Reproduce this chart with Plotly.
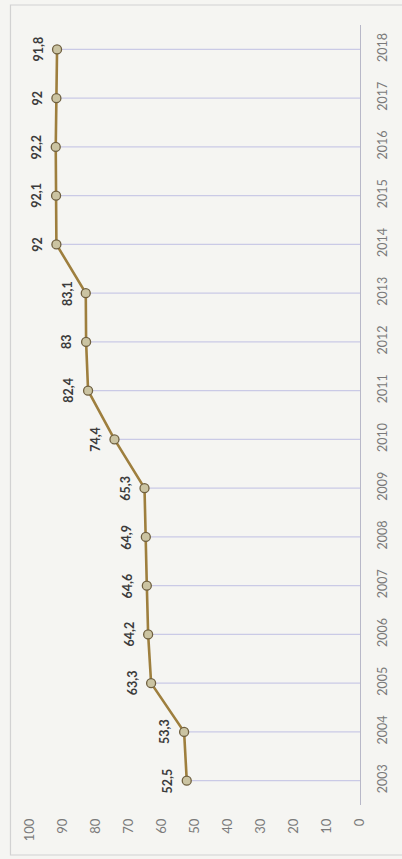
import plotly.graph_objects as go

# Annual values, 2003-2018
years = list(range(2003, 2019))
values = [52.5, 53.3, 63.3, 64.2, 64.6, 64.9, 65.3, 74.4,
          82.4, 83.0, 83.1, 92.0, 92.1, 92.2, 92.0, 91.8]
value_ticks = [0, 10, 20, 30, 40, 50, 60, 70, 80, 90, 100]

W, H = 402, 859
ML, MR, MT, MB = 30, 34, 25, 54

LINE = "#9e7f3e"
MARK_FILL = "#cbc4a2"
MARK_EDGE = "#6f6040"
DROP = "#cacae6"
AXIS = "#b8b8c8"
TICK_FONT = "#7a7a7a"
LABEL_FONT = "#3c3c3c"
FONT = "Lato, 'Open Sans', sans-serif"

fig = go.Figure()

# drop lines from each point to the zero line
dx, dy = [], []
for v, yr in zip(values, years):
    dx += [v, 0, None]
    dy += [yr, yr, None]
fig.add_trace(go.Scatter(x=dx, y=dy, mode="lines",
                         line=dict(color=DROP, width=1.2),
                         hoverinfo="skip", showlegend=False))

# main series
fig.add_trace(go.Scatter(
    x=values, y=years, mode="lines+markers",
    line=dict(color=LINE, width=2.6),
    marker=dict(size=9, color=MARK_FILL, line=dict(color=MARK_EDGE, width=1.3)),
    showlegend=False))

# value labels, written vertically beside each point
for v, yr in zip(values, years):
    txt = ("%g" % v).replace(".", ",")
    fig.add_annotation(x=v, y=yr, text="<b>%s</b>" % txt, showarrow=False,
                       textangle=-90, xshift=-19,
                       font=dict(family=FONT, size=12.5, color=LABEL_FONT))

# outer chart frame
fig.add_shape(type="rect", xref="paper", yref="paper",
              x0=(10 - ML) / (W - ML - MR), x1=1.2,
              y0=-(855 - (H - MB)) / (H - MT - MB), y1=1 + (MT - 5) / (H - MT - MB),
              line=dict(color="#d2d2d2", width=1.2), fillcolor="rgba(0,0,0,0)",
              layer="below")

fig.update_layout(
    width=W, height=H,
    margin=dict(l=ML, r=MR, t=MT, b=MB),
    paper_bgcolor="#f5f5f2", plot_bgcolor="rgba(0,0,0,0)",
    font=dict(family=FONT),
    xaxis=dict(range=[100, 0], tickvals=value_ticks, tickangle=-90,
               showgrid=False, zeroline=False, showline=False,
               ticks="", ticklabelstandoff=10,
               tickfont=dict(family=FONT, size=13, color=TICK_FONT)),
    yaxis=dict(range=[2002.5, 2018.5], tickvals=years, side="right",
               tickangle=-90, showgrid=False, zeroline=False,
               showline=True, linecolor=AXIS, linewidth=1.2,
               ticks="", ticklabelstandoff=11,
               tickfont=dict(family=FONT, size=12.5, color=TICK_FONT)),
)

fig.write_html("out.html")
